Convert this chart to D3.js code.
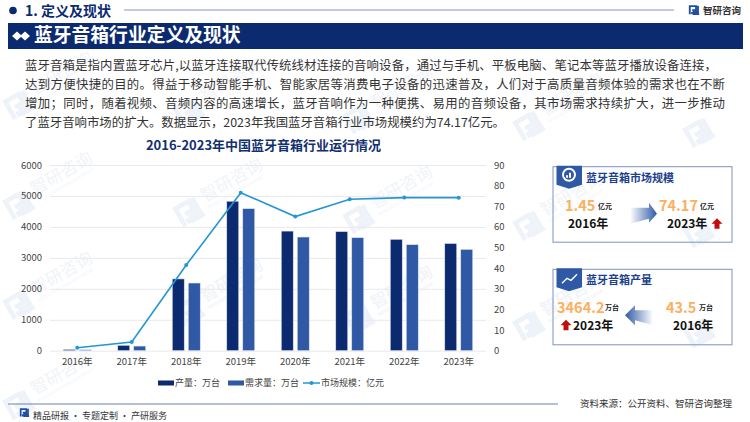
<!DOCTYPE html>
<meta charset="utf-8">
<title>蓝牙音箱行业定义及现状</title>
<style>
html, body { margin: 0; padding: 0; background: #fff; overflow: hidden; }
svg { display: block; }
text { font-family: "Noto Sans CJK SC", "Noto Sans", sans-serif; }
</style>
<body>
<script src="https://cdnjs.cloudflare.com/ajax/libs/d3/7.8.5/d3.min.js"></script>
<script>

var years = ["2016年", "2017年", "2018年", "2019年", "2020年", "2021年", "2022年", "2023年"];
var output = [43.5, 175, 2320, 4830, 3865, 3850, 3600, 3464.2];
var demand = [30, 150, 2187, 4590, 3673, 3652, 3425, 3275];
var market = [1.45, 4.2, 41.5, 76.6, 65, 73.4, 74.2, 74.17];
var leftTicks = [0, 1000, 2000, 3000, 4000, 5000, 6000];
var rightTicks = [0, 10, 20, 30, 40, 50, 60, 70, 80, 90];
var paragraph = [
  "蓝牙音箱是指内置蓝牙芯片,以蓝牙连接取代传统线材连接的音响设备，通过与手机、平板电脑、笔记本等蓝牙播放设备连接，",
  "达到方便快捷的目的。得益于移动智能手机、智能家居等消费电子设备的迅速普及，人们对于高质量音频体验的需求也在不断",
  "增加；同时，随着视频、音频内容的高速增长，蓝牙音响作为一种便携、易用的音频设备，其市场需求持续扩大，进一步推动",
  "了蓝牙音响市场的扩大。数据显示，2023年我国蓝牙音箱行业市场规模约为74.17亿元。"
];
var paragraphEnds = [717, 725, 725, 505];

var navy = "#0c2a6f", blue = "#2f59a5", lineBlue = "#2596d2", orange = "#fbb05f";

var svg = d3.select("body").append("svg").attr("width", 750).attr("height", 422);
var defs = svg.append("defs");

function gradient(id, x1, x2) {
    var g = defs.append("linearGradient").attr("id", id).attr("x1", x1).attr("x2", x2).attr("y1", 0).attr("y2", 0);
    g.append("stop").attr("offset", 0).attr("stop-color", "#fff");
    g.append("stop").attr("offset", 1).attr("stop-color", blue);
}
gradient("arrowRight", 0, 1);
gradient("arrowLeft", 1, 0);

function label(parent, x, y, str, size, fill, weight, anchor) {
    return parent.append("text").attr("x", x).attr("y", y).text(str)
        .attr("font-size", size).attr("fill", fill)
        .attr("font-weight", weight || 400)
        .attr("text-anchor", anchor || "start");
}

function logo(parent, x, y, s, color) {
    parent.append("path")
        .attr("transform", "translate(" + x + "," + y + ") scale(" + s + ")")
        .attr("fill", "none").attr("stroke", color).attr("stroke-width", 2.4)
        .attr("d", "M1 12V1.5H9V6.5H4M1 12V11M11.5 1V9H6V11.5H13M4 9V12");
}

// watermark, the last column only fits its logo
var wm = svg.append("g");
d3.range(0, 5).forEach(function(col) {
    d3.range(0, 4).forEach(function(row) {
        var x = 20 + col * 170, y = 105 + row * 100 + col * 7;
        if (y > 410) y -= 100;
        var g = wm.append("g").attr("transform", "translate(" + x + "," + y + ") rotate(-30)");
        logo(g, -13, -13, 1.9, "#eef3f9");
        if (col < 4) {
            label(g, 18, -1, "智研咨询", 17, "#f1f4f8", 400);
            label(g, 18, 7, "INTELLIGENCE RESEARCH GROUP", 4, "#f1f4f8", 400);
        }
    });
});

// header
svg.append("circle").attr("cx", 13).attr("cy", 10.5).attr("r", 3.8).attr("fill", navy);
label(svg, 25, 16, "1. 定义及现状", 14, navy, 700);
svg.append("line").attr("x1", 124).attr("x2", 674).attr("y1", 10).attr("y2", 10).attr("stroke", "#8396c3").attr("stroke-width", 1);
logo(svg, 689, 5, 0.78, "#1f4fa3");
label(svg, 703, 14, "智研咨询", 9.5, "#333", 700);

svg.append("rect").attr("x", 8).attr("y", 23).attr("width", 735).attr("height", 26).attr("fill", navy);
[17, 25].forEach(function(cx) {
    svg.append("path").attr("transform", "translate(" + cx + ",36)").attr("fill", "#fff")
        .attr("d", "M-5 0L0 -4.5L5 0L0 4.5Z");
});
label(svg, 34, 42, "蓝牙音箱行业定义及现状", 18.8, "#fff", 700);

// paragraph
paragraph.forEach(function(line, i) {
    label(svg, 25, 70 + i * 18.9, line, 12.4, "#333")
        .attr("textLength", paragraphEnds[i] - 25).attr("lengthAdjust", "spacing");
});

// chart
label(svg, 263.5, 149.5, "2016-2023年中国蓝牙音箱行业运行情况", 13, "#12306f", 700, "middle");

var x = d3.scaleBand().domain(years).range([50, 486]);
var yLeft = d3.scaleLinear().domain([0, 6000]).range([350.7, 165]);
var yRight = d3.scaleLinear().domain([0, 90]).range([350.7, 165]);

var leftAxis = svg.append("g").attr("transform", "translate(50,0)")
    .call(d3.axisLeft(yLeft).tickValues(leftTicks).tickFormat(d3.format("d")).tickSize(-436).tickPadding(8));
leftAxis.select(".domain").remove();
leftAxis.selectAll("line").attr("stroke", "#e7e9ee").attr("stroke-width", 1);
leftAxis.selectAll("text").attr("font-size", 9.5).attr("fill", "#444");

var rightAxis = svg.append("g").attr("transform", "translate(486,0)")
    .call(d3.axisRight(yRight).tickValues(rightTicks).tickSize(0).tickPadding(8));
rightAxis.select(".domain").remove();
rightAxis.selectAll("text").attr("font-size", 9.5).attr("fill", "#444");

var bottomAxis = svg.append("g").attr("transform", "translate(0,350.7)")
    .call(d3.axisBottom(x).tickSize(0).tickPadding(8));
bottomAxis.select(".domain").remove();
bottomAxis.selectAll("text").attr("font-size", 9.5).attr("fill", "#444");

function bars(values, offset, color) {
    svg.append("g").selectAll("rect").data(values).enter().append("rect")
        .attr("x", function(d, i) { return x(years[i]) + x.bandwidth() / 2 + offset; })
        .attr("y", function(d) { return yLeft(d); })
        .attr("width", 12)
        .attr("height", function(d) { return yLeft(0) - yLeft(d); })
        .attr("fill", color)
        .attr("stroke", "#dde4f2").attr("stroke-width", 0.6);
}
bars(output, -14, navy);
bars(demand, 2, blue);

var line = d3.line()
    .x(function(d, i) { return x(years[i]) + x.bandwidth() / 2; })
    .y(function(d) { return yRight(d); });
svg.append("path").datum(market).attr("d", line).attr("fill", "none").attr("stroke", lineBlue).attr("stroke-width", 1.6);
svg.append("g").selectAll("circle").data(market).enter().append("circle")
    .attr("cx", function(d, i) { return x(years[i]) + x.bandwidth() / 2; })
    .attr("cy", function(d) { return yRight(d); })
    .attr("r", 2).attr("fill", lineBlue);

// legend
svg.append("rect").attr("x", 158).attr("y", 380.5).attr("width", 16).attr("height", 5).attr("fill", navy);
label(svg, 175, 386, "产量：万台", 9, "#444");
svg.append("rect").attr("x", 228).attr("y", 380.5).attr("width", 16).attr("height", 5).attr("fill", blue);
label(svg, 245, 386, "需求量：万台", 9, "#444");
svg.append("line").attr("x1", 303).attr("x2", 320).attr("y1", 383).attr("y2", 383).attr("stroke", lineBlue).attr("stroke-width", 1.5);
svg.append("circle").attr("cx", 311.5).attr("cy", 383).attr("r", 2).attr("fill", lineBlue);
label(svg, 321, 386, "市场规模：亿元", 9, "#444");

// side panels
function panel(top, title) {
    var g = svg.append("g").attr("transform", "translate(553," + top + ")");
    g.append("rect").attr("width", 179).attr("height", 75.5).attr("fill", "none").attr("stroke", "#7d92c4").attr("stroke-width", 1);
    g.append("path").attr("fill", blue).attr("d", "M3.5 -1H29V18L16 22L3.5 18Z");
    label(g, 33, 15, title, 11, "#1d3f8c", 700);
    return g;
}
function upArrow(g, cx, cy) {
    g.append("path").attr("transform", "translate(" + cx + "," + cy + ")").attr("fill", "#c00d0d")
        .attr("d", "M0 -5.5L5.5 0H2.5V5H-2.5V0H-5.5Z");
}

var p1 = panel(166.7, "蓝牙音箱市场规模");
p1.append("circle").attr("cx", 16).attr("cy", 8).attr("r", 6).attr("fill", "none").attr("stroke", "#fff").attr("stroke-width", 2);
p1.append("path").attr("fill", "#fff").attr("d", "M13 11V8.5H15V11ZM16 11V6H18V11Z");
label(p1, 12, 44, market[0], 14.5, orange, 700);
label(p1, 45, 42, "亿元", 7, "#222", 700);
label(p1, 15, 61, "2016年", 12, "#111", 700);
p1.append("path").attr("fill", "url(#arrowRight)").attr("d", "M77 41H96V36L104 47L96 56V52L77 57Z");
label(p1, 106, 44, market[7], 14.5, orange, 700);
label(p1, 147, 42, "亿元", 7, "#222", 700);
label(p1, 114, 61, "2023年", 12, "#111", 700);
upArrow(p1, 164, 57);

var p2 = panel(269.3, "蓝牙音箱产量");
p2.append("path").attr("fill", "none").attr("stroke", "#fff").attr("stroke-width", 1.4).attr("d", "M9 14L14 9L18 11L24 5");
label(p2, 4, 44, output[7], 14.5, orange, 700);
label(p2, 52, 41, "万台", 7, "#222", 700);
upArrow(p2, 13, 56);
label(p2, 20, 61, "2023年", 12, "#111", 700);
p2.append("path").attr("fill", "url(#arrowLeft)").attr("d", "M100 41H82V36L72 46L82 56V51L100 56Z");
label(p2, 113, 44, "43.5", 14.5, orange, 700);
label(p2, 146, 41, "万台", 7, "#222", 700);
label(p2, 120, 61, "2016年", 12, "#111", 700);

// footer
svg.append("line").attr("x1", 8).attr("x2", 558).attr("y1", 404).attr("y2", 404).attr("stroke", "#6a80b6").attr("stroke-width", 1);
logo(svg, 20, 408, 0.7, "#1f4fa3");
label(svg, 33, 418.5, "精品研报 · 专题定制 · 产研服务", 9, "#333");
label(svg, 580, 407, "资料来源：公开资料、智研咨询整理", 9.5, "#333");

</script>
